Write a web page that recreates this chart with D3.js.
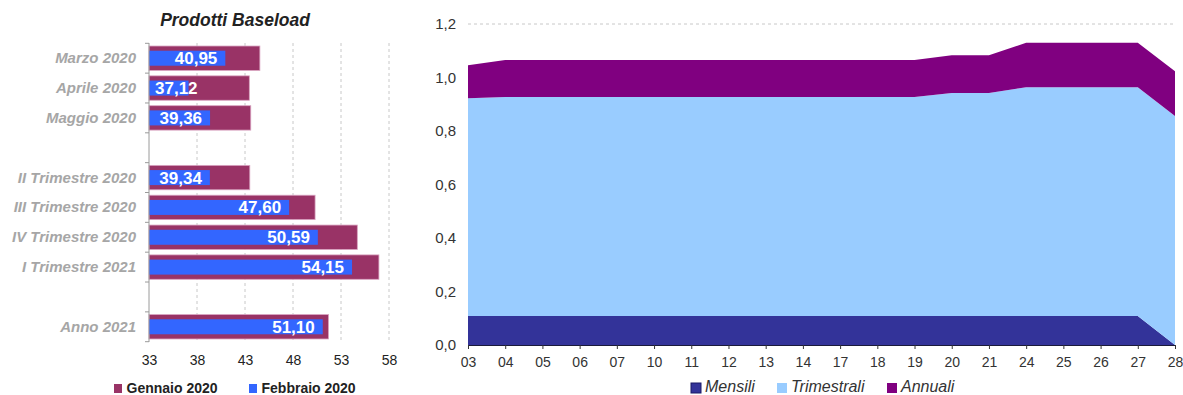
<!DOCTYPE html>
<html>
<head>
<meta charset="utf-8">
<script src="https://cdn.jsdelivr.net/npm/d3@7"></script>
<style>
  body { margin: 0; background: #fff; }
  svg { display: block; font-family: "Liberation Sans", Arial, sans-serif; }
</style>
</head>
<body>
<svg id="chart" width="1183" height="395"></svg>
<script>
// ---- Prodotti Baseload (left bar chart) ----
const products = ["Marzo 2020", "Aprile 2020", "Maggio 2020", "",
  "II Trimestre 2020", "III Trimestre 2020", "IV Trimestre 2020", "I Trimestre 2021", "",
  "Anno 2021"];
const gennaio2020 = [44.55, 43.45, 43.6, null, 43.5, 50.3, 54.7, 56.95, null, 51.7];
const febbraio2020 = [40.95, 37.12, 39.36, null, 39.34, 47.60, 50.59, 54.15, null, 51.10];
const priceTicks = [33, 38, 43, 48, 53, 58];

// ---- stacked area (right chart) ----
const days = ["03", "04", "05", "06", "07", "10", "11", "12", "13", "14",
  "17", "18", "19", "20", "21", "24", "25", "26", "27", "28"];
const mensili = [0.108, 0.108, 0.108, 0.108, 0.108, 0.108, 0.108, 0.108, 0.108, 0.108,
  0.108, 0.108, 0.108, 0.108, 0.108, 0.108, 0.108, 0.108, 0.108, 0.0];
const trimestrali = [0.814, 0.819, 0.819, 0.819, 0.819, 0.819, 0.819, 0.819, 0.819, 0.819,
  0.819, 0.819, 0.819, 0.834, 0.834, 0.856, 0.856, 0.856, 0.856, 0.856];
const annuali = [0.124, 0.138, 0.138, 0.138, 0.138, 0.138, 0.138, 0.138, 0.138, 0.138,
  0.138, 0.138, 0.138, 0.141, 0.141, 0.166, 0.166, 0.166, 0.166, 0.167];
const shareTicks = [0, 0.2, 0.4, 0.6, 0.8, 1.0, 1.2];

const svg = d3.select("#chart");
const comma = d => d.toFixed(2).replace(".", ",");

// ================= LEFT CHART =================
const left = svg.append("g");
const xL = d3.scaleLinear().domain([33, 58]).range([149, 389]);
const yL = d3.scaleBand().domain(d3.range(products.length)).range([43.3, 341.7]).paddingInner(0).paddingOuter(0);

left.append("text")
  .attr("x", 235).attr("y", 25.5)
  .attr("text-anchor", "middle")
  .attr("font-size", 17.5).attr("font-weight", "bold").attr("font-style", "italic")
  .attr("fill", "#222")
  .text("Prodotti Baseload");

// vertical dashed grid
left.append("g").selectAll("line")
  .data(priceTicks.slice(1))
  .join("line")
  .attr("x1", d => xL(d)).attr("x2", d => xL(d))
  .attr("y1", 43).attr("y2", 342)
  .attr("stroke", "#c8c8c8").attr("stroke-dasharray", "3,3");

// x axis labels
const xAxisL = left.append("g")
  .attr("transform", "translate(0,342)")
  .call(d3.axisBottom(xL).tickValues(priceTicks).tickSize(0).tickPadding(13));
xAxisL.select(".domain").remove();
xAxisL.selectAll("text").attr("font-size", 14).attr("fill", "#222")
  .attr("font-family", "'Liberation Sans', Arial, sans-serif");

const bh = yL.bandwidth();
const rows = products.map((p, i) => ({ i, p, g: gennaio2020[i], f: febbraio2020[i] }))
  .filter(d => d.g != null);

// Gennaio 2020 bars (wide)
left.append("g").selectAll("rect")
  .data(rows).join("rect")
  .attr("x", xL(33))
  .attr("y", d => yL(d.i) + bh / 2 - 12.2)
  .attr("width", d => xL(d.g) - xL(33))
  .attr("height", 24.4)
  .attr("fill", "#993366")
  .attr("stroke", "#d9a3c0").attr("stroke-width", 0.8);

// Febbraio 2020 bars (narrow, overlaid)
left.append("g").selectAll("rect")
  .data(rows).join("rect")
  .attr("x", xL(33))
  .attr("y", d => yL(d.i) + bh / 2 - 7.5)
  .attr("width", d => xL(d.f) - xL(33))
  .attr("height", 15)
  .attr("fill", "#3366ff");

// value labels for Febbraio 2020
left.append("g").selectAll("text")
  .data(rows).join("text")
  .attr("y", d => yL(d.i) + bh / 2 + 6)
  .attr("font-size", 17).attr("font-weight", "bold").attr("fill", "#fff")
  .attr("text-anchor", "end")
  .text(d => comma(d.f))
  .each(function (d) {
    const w = this.getComputedTextLength();
    const xe = Math.max(xL(d.f) - 8, xL(33) + 6 + w);
    d3.select(this).attr("x", xe);
  });

// category axis
left.append("line")
  .attr("x1", 149).attr("x2", 149).attr("y1", 43).attr("y2", 342)
  .attr("stroke", "#9a9a9a").attr("stroke-width", 1);
const bounds = d3.range(products.length + 1).map(i => i === products.length ? yL.range()[1] : yL(i));
left.append("g").selectAll("line")
  .data(bounds).join("line")
  .attr("x1", 145).attr("x2", 149)
  .attr("y1", d => d).attr("y2", d => d)
  .attr("stroke", "#9a9a9a");

left.append("g").selectAll("text")
  .data(products.map((p, i) => ({ p, i })).filter(d => d.p !== ""))
  .join("text")
  .attr("x", 136)
  .attr("y", d => yL(d.i) + bh / 2 + 5)
  .attr("text-anchor", "end")
  .attr("font-size", 15).attr("font-weight", "bold").attr("font-style", "italic")
  .attr("fill", "#a6a6a6")
  .text(d => d.p);

// left legend
const legL = [
  { name: "Gennaio 2020", color: "#993366", x: 114 },
  { name: "Febbraio 2020", color: "#3366ff", x: 249 }
];
const lgL = left.append("g").selectAll("g").data(legL).join("g");
lgL.append("rect")
  .attr("x", d => d.x).attr("y", 384).attr("width", 8).attr("height", 9)
  .attr("fill", d => d.color);
lgL.append("text")
  .attr("x", d => d.x + 12.5).attr("y", 393)
  .attr("font-size", 14).attr("font-weight", "bold").attr("fill", "#222")
  .text(d => d.name);

// ================= RIGHT CHART =================
const right = svg.append("g");
const xR = d3.scalePoint().domain(days).range([468, 1175]);
const yR = d3.scaleLinear().domain([0, 1.2]).range([345, 24]);

// horizontal dashed gridlines (only the top one stays visible above the areas)
right.append("g").selectAll("line")
  .data(shareTicks.filter(d => d > 0))
  .join("line")
  .attr("x1", 468).attr("x2", 1175)
  .attr("y1", d => yR(d)).attr("y2", d => yR(d))
  .attr("stroke", "#c8c8c8").attr("stroke-dasharray", "3,3");

const table = days.map((d, i) => ({ day: d, Mensili: mensili[i], Trimestrali: trimestrali[i], Annuali: annuali[i] }));
const keys = ["Mensili", "Trimestrali", "Annuali"];
const colors = { Mensili: "#333399", Trimestrali: "#99ccff", Annuali: "#800080" };
const stacked = d3.stack().keys(keys)(table);

const area = d3.area()
  .x(d => xR(d.data.day))
  .y0(d => yR(d[0]))
  .y1(d => yR(d[1]));

right.append("g").selectAll("path")
  .data(stacked).join("path")
  .attr("d", area)
  .attr("fill", d => colors[d.key]);

// y axis labels
const yAxisR = right.append("g")
  .attr("transform", "translate(468,0)")
  .call(d3.axisLeft(yR).tickValues(shareTicks).tickSize(0).tickPadding(12)
    .tickFormat(d => d.toFixed(1).replace(".", ",")));
yAxisR.select(".domain").remove();
yAxisR.selectAll("text").attr("font-size", 15).attr("fill", "#333")
  .attr("font-family", "'Liberation Sans', Arial, sans-serif");

// x axis
const xAxisR = right.append("g")
  .attr("transform", "translate(0,345)")
  .call(d3.axisBottom(xR).tickSize(4).tickPadding(8));
xAxisR.select(".domain").attr("stroke", "#1a1a3a").attr("d", "M468,0.5H1175");
xAxisR.selectAll(".tick line").attr("stroke", "#333");
xAxisR.selectAll("text").attr("font-size", 14).attr("fill", "#333")
  .attr("font-family", "'Liberation Sans', Arial, sans-serif");

// right legend
const legR = [
  { name: "Mensili", color: "#333399", x: 691 },
  { name: "Trimestrali", color: "#99ccff", x: 777 },
  { name: "Annuali", color: "#800080", x: 887 }
];
const lgR = right.append("g").selectAll("g").data(legR).join("g");
lgR.append("rect")
  .attr("x", d => d.x).attr("y", 383).attr("width", 10).attr("height", 10)
  .attr("fill", d => d.color)
  .attr("stroke", d => d.name === "Mensili" ? "#1a1a66" : "none");
lgR.append("text")
  .attr("x", d => d.x + 14).attr("y", 392)
  .attr("font-size", 16).attr("font-style", "italic").attr("fill", "#333")
  .text(d => d.name);
</script>
</body>
</html>
